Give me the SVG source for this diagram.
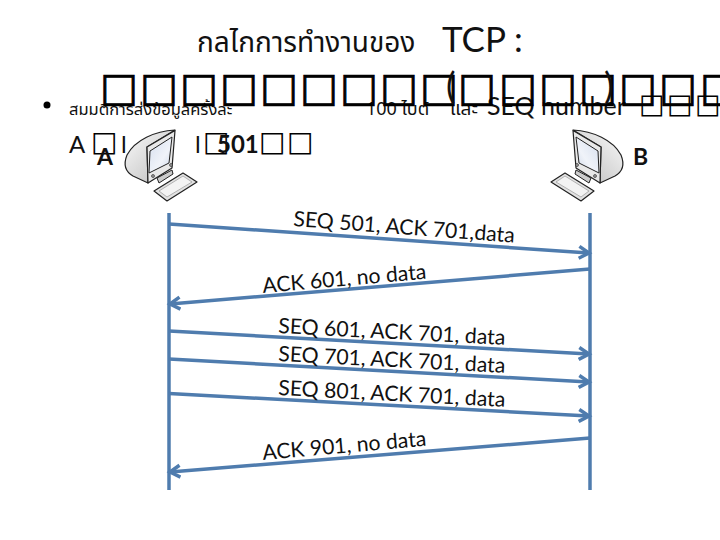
<svg xmlns="http://www.w3.org/2000/svg" width="720" height="540" viewBox="0 0 720 540">
<style>
.th{font-family:"Noto Sans Thai","Noto Sans","DejaVu Sans","Noto Sans CJK SC",sans-serif;fill:#111}
.la{font-family:Lato,"Open Sans",sans-serif;fill:#111}
.box{font-family:"DejaVu Sans",sans-serif;fill:#000}
.lbl{font-family:Lato,"Open Sans",sans-serif;font-size:21.200px;fill:#111}
.c{stroke:#4f7cae;stroke-width:3.500;fill:none}
.a{stroke:#4f7cae;stroke-width:3.500;fill:none;marker-end:url(#ah)}
</style>
<defs>
<marker id="ah" markerUnits="userSpaceOnUse" markerWidth="16" markerHeight="16" refX="11" refY="8" orient="auto">
<path d="M1,2 L11,8 L1,14" fill="none" stroke="#4f7cae" stroke-width="3.500"/>
</marker>
<linearGradient id="body" x1="0" y1="0" x2="1" y2="1"><stop offset="0" stop-color="#fbfbfb"/><stop offset="1" stop-color="#b9b9b9"/></linearGradient>
<linearGradient id="scr" x1="0" y1="0" x2="1" y2="1"><stop offset="0" stop-color="#d5deee"/><stop offset="0.6" stop-color="#f0f3f9"/><stop offset="1" stop-color="#c9d4e6"/></linearGradient>
<g id="pc" stroke="#222" stroke-linejoin="round">
<path d="M157,178 L172,170 L173,174 L159,183 Z" fill="#ccc" stroke-width="1"/>
<path d="M175,130 C155,131 135,140 127,155 C123,165 126,172 133,176 L148,183 L147,147 Z" fill="url(#body)" stroke-width="1.200"/>
<path d="M147,147 L175,130.500 L172,168 L148,183 Z" fill="#e8e8e8" stroke-width="1.200"/>
<path d="M150,151 L172,137 L169,163 L149,173 Z" fill="url(#scr)" stroke-width="1"/>
<circle cx="153" cy="176" r="1.500" fill="#999" stroke-width=".6"/>
<circle cx="171" cy="165" r="1.500" fill="#999" stroke-width=".6"/>
<path d="M154,191 L183,173 L197,182 L167,201 Z" fill="#e2e2e2" stroke-width="1.200"/>
<path d="M159,191 L183,176 L192,182 L167,197 Z" fill="#f3f3f3" stroke="#999" stroke-width=".7"/>
</g>
</defs>

<g id="title">
<text class="th" x="197" y="52" font-size="28">กลไกการทำงานของ</text>
<text class="la" x="442" y="52" font-size="35">TCP :</text>
</g>

<g id="bullet-text">
<circle cx="47" cy="105" r="3.500" fill="#000"/>
<text class="th" x="69" y="115" font-size="16.500">สมมติการส่งข้อมูลครั้งละ</text>
<text class="th" x="366" y="115" font-size="18">100 ไบต์</text>
<text class="th" x="450" y="115" font-size="19">และ</text>
<text class="la" x="487" y="115" font-size="25">SEQ number</text>
<text class="box" x="639 667 695" y="113" font-size="27">□□□</text>
<text class="box" x="100 140 180 220 260 300 340 380 420 458 499 539 579 619 659 700" y="100.500" font-size="40" stroke="#000" stroke-width=".8">□□□□□□□□□□□□□□□□</text>
<text class="la" x="446" y="99" font-size="36">(</text>
<text class="la" x="604" y="99" font-size="36">)</text>
<text class="la" x="69" y="153" font-size="24">A</text>
<text class="box" x="91" y="151" font-size="28">□</text>
<text class="la" x="121" y="153" font-size="24">l</text>
<text class="la" x="195" y="153" font-size="24">l</text>
<text class="box" x="203" y="151" font-size="28">□</text>
<text class="la" x="217" y="153" font-size="24" font-weight="700">501</text>
<text class="box" x="259 287" y="151" font-size="28">□□</text>
</g>

<g id="node-a">
<use href="#pc"/>
<text class="la" x="97" y="165" font-size="23" font-weight="700">A</text>
</g>
<g id="node-b">
<use href="#pc" transform="translate(748,0) scale(-1,1)"/>
<text class="la" x="633" y="165" font-size="23" font-weight="700">B</text>
</g>

<g id="connectors">
<line class="c" x1="169" y1="213" x2="169" y2="490"/>
<line class="c" x1="590" y1="213" x2="590" y2="490"/>
<line class="a" x1="169" y1="224" x2="589" y2="253"/>
<line class="a" x1="590" y1="269" x2="170" y2="304"/>
<line class="a" x1="169" y1="331" x2="589" y2="354"/>
<line class="a" x1="169" y1="359" x2="589" y2="382"/>
<line class="a" x1="169" y1="393.500" x2="589" y2="416"/>
<line class="a" x1="590" y1="438" x2="170" y2="472"/>
</g>

<g id="labels">
<text class="lbl" transform="translate(293,226) rotate(4.300)">SEQ 501, ACK 701,data</text>
<text class="lbl" transform="translate(263,293) rotate(-5)">ACK 601, no data</text>
<text class="lbl" transform="translate(278,333) rotate(3)">SEQ 601, ACK 701, data</text>
<text class="lbl" transform="translate(278,361) rotate(3)">SEQ 701, ACK 701, data</text>
<text class="lbl" transform="translate(278,395) rotate(3)">SEQ 801, ACK 701, data</text>
<text class="lbl" transform="translate(263,460) rotate(-5)">ACK 901, no data</text>
</g>
</svg>
